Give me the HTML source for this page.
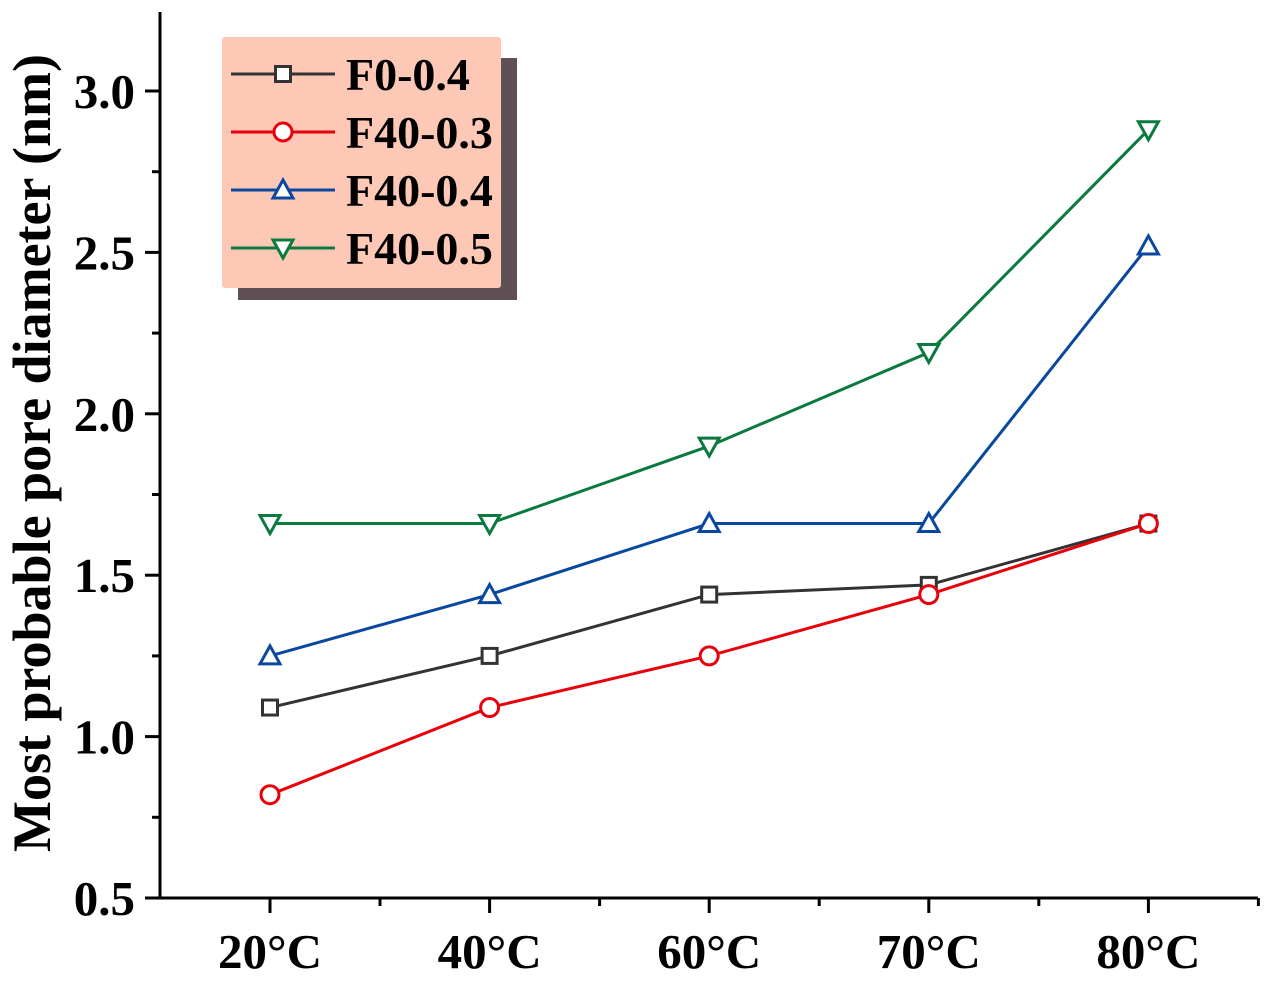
<!DOCTYPE html>
<html><head><meta charset="utf-8"><style>
body{margin:0;background:#fff}
svg text{font-family:"Liberation Serif",serif;font-weight:bold;fill:#000}
</style></head><body>
<svg id="chart" width="1269" height="982" xmlns="http://www.w3.org/2000/svg">
<g id="axes"></g>
<g id="series"></g>
<g id="legend"></g>
<text transform="translate(50,453) rotate(-90)" text-anchor="middle" font-size="54">Most probable pore diameter (nm)</text>
</svg>
<script>
const categories = ["20°C","40°C","60°C","70°C","80°C"];
const yTicks = [0.5,1.0,1.5,2.0,2.5,3.0];
const seriesNames = ["F0-0.4","F40-0.3","F40-0.4","F40-0.5"];
const f0_04 = [1.09,1.25,1.44,1.47,1.66];
const f40_03 = [0.82,1.09,1.25,1.44,1.66];
const f40_04 = [1.25,1.44,1.66,1.66,2.52];
const f40_05 = [1.66,1.66,1.90,2.19,2.88];

const NS="http://www.w3.org/2000/svg";
const X0=160,X1=1258,Y0=898,Y1=12;
const xS=i=>270+(i)*(X1-X0)/(categories.length);
const yS=v=>Y0-(v-0.5)*(Y0-91)/2.5;
function mk(tag,attrs,parent){const e=document.createElementNS(NS,tag);for(const k in attrs)e.setAttribute(k,attrs[k]);parent.appendChild(e);return e;}
const axes=document.getElementById('axes');
let e;
e=mk('line',{x1:X0,y1:Y1,x2:X0,y2:Y0,stroke:'#000','stroke-width':3},axes);


e=mk('line',{x1:X0-1.5,y1:Y0,x2:X1,y2:Y0,stroke:'#000','stroke-width':3},axes);


yTicks.forEach((v,i)=>{
  const y=yS(v);
  let t=mk('line',{x1:X0-15,y1:y,x2:X0,y2:y,stroke:'#000','stroke-width':3},axes);
  
  
  if(i<yTicks.length-1){const ym=yS(v+0.25);
    let m=mk('line',{x1:X0-8,y1:ym,x2:X0,y2:ym,stroke:'#000','stroke-width':3},axes);
    
    }
  let l=mk('text',{x:X0-25,y:y+17,'text-anchor':'end','font-size':49},axes);
  l.textContent=v.toFixed(1);
  
  
});
categories.forEach((c,i)=>{
  const x=xS(i);
  let t=mk('line',{x1:x,y1:Y0,x2:x,y2:Y0+15,stroke:'#000','stroke-width':3},axes);
  
  
  let m=mk('line',{x1:x+110,y1:Y0,x2:x+110,y2:Y0+8,stroke:'#000','stroke-width':3},axes);
  
  
  let l=mk('text',{x:x,y:968,'text-anchor':'middle','font-size':49},axes);
  l.textContent=c;
  
  
});
const colors=['#333333','#e8000b','#0a48a0','#0a7a3e'];
const shapes=['square','circle','up','down'];
const data=[f0_04,f40_03,f40_04,f40_05];
function marker(shape,x,y,col,g){
  let m;
  if(shape==='square')m=mk('rect',{x:x-7.5,y:y-7.5,width:15,height:15,fill:'#fff',stroke:col,'stroke-width':3},g);
  else if(shape==='circle')m=mk('circle',{cx:x,cy:y,r:9,fill:'#fff',stroke:col,'stroke-width':3},g);
  else if(shape==='up')m=mk('polygon',{points:`${x},${y-10} ${x-10},${y+8} ${x+10},${y+8}`,fill:'#fff',stroke:col,'stroke-width':3},g);
  else m=mk('polygon',{points:`${x},${y+10} ${x-10},${y-8} ${x+10},${y-8}`,fill:'#fff',stroke:col,'stroke-width':3},g);
  return m;
}
const sg=document.getElementById('series');
data.forEach((arr,si)=>{
  const g=mk('g',{},sg);
  
  
  let p=mk('polyline',{points:arr.map((v,i)=>xS(i)+','+yS(v)).join(' '),fill:'none',stroke:colors[si],'stroke-width':3},g);
  
  
  arr.forEach((v,i)=>{const m=marker(shapes[si],xS(i),yS(v),colors[si],g);
    
    });
});
const lg=document.getElementById('legend');
e=mk('rect',{x:238,y:58,width:279,height:242,fill:'#5e5054'},lg);


e=mk('rect',{x:222,y:37,width:279,height:251,fill:'#fdc8b6',rx:3},lg);


seriesNames.forEach((n,i)=>{
  const y=74+i*58;
  const g=mk('g',{},lg);
  
  
  mk('line',{x1:231,y1:y,x2:335,y2:y,stroke:colors[i],'stroke-width':3},g);
  marker(shapes[i],283,y,colors[i],g);
  const t=mk('text',{x:346,y:y+16,'font-size':46},g);
  t.textContent=n;
});
</script>
</body></html>
